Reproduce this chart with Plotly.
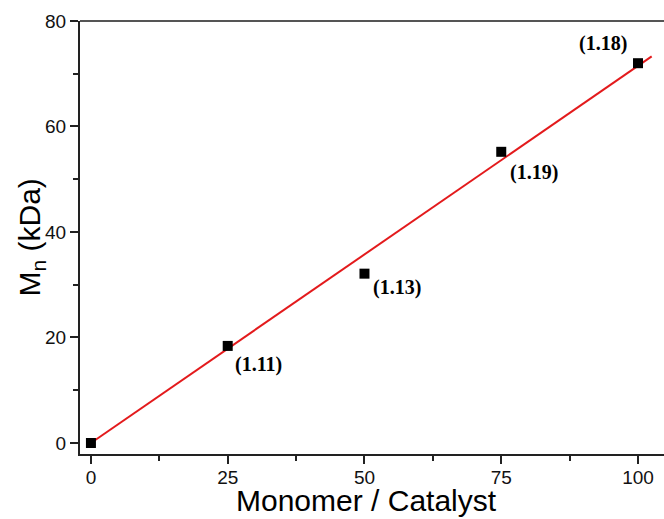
import numpy as np
import plotly.graph_objects as go

ratio = [0, 25, 50, 75, 100]
mn = [0.0, 18.4, 32.1, 55.2, 72.0]
pdi_labels = ["", "(1.11)", "(1.13)", "(1.19)", "(1.18)"]
x_ticks = [0, 25, 50, 75, 100]
y_ticks = [0, 20, 40, 60, 80]

# linear fit through origin
xa = np.array(ratio, float)
ya = np.array(mn, float)
slope = (xa * ya).sum() / (xa * xa).sum()
fit_x = np.array([0.0, 102.5])
fit_y = slope * fit_x

fig = go.Figure()
fig.add_trace(go.Scatter(x=fit_x, y=fit_y, mode="lines",
                         line=dict(color="#e31a1c", width=2), showlegend=False))
fig.add_trace(go.Scatter(x=ratio, y=mn, mode="markers",
                         marker=dict(symbol="square", size=10, color="black"),
                         showlegend=False))

# label offsets (pixels) relative to points
offsets = {1: (31, -19), 2: (33, -14), 3: (33, -21), 4: (-35, 20)}
for i, lab in enumerate(pdi_labels):
    if not lab:
        continue
    dx, dy = offsets[i]
    fig.add_annotation(x=ratio[i], y=mn[i], text="<b>%s</b>" % lab, showarrow=False,
                       xshift=dx, yshift=dy,
                       font=dict(family="Liberation Serif", size=20, color="black"))

# axis titles
fig.add_annotation(xref="paper", yref="paper", x=0.49, y=0, xanchor="center", yanchor="top",
                   yshift=-28, showarrow=False, text="Monomer / Catalyst",
                   font=dict(family="Liberation Sans", size=30, color="black"))
fig.add_annotation(xref="paper", yref="paper", x=0, y=0.5, xanchor="center", yanchor="middle",
                   xshift=-49, textangle=-90, showarrow=False, text="M<sub>n</sub> (kDa)",
                   font=dict(family="Liberation Sans", size=30, color="black"))

fig.add_shape(type="line", xref="paper", yref="paper", x0=0, x1=1, y0=1, y1=1,
              line=dict(color="#555555", width=2))

axis_common = dict(showgrid=False, zeroline=False, showline=True, linecolor="#222222",
                   linewidth=2, ticks="outside", ticklen=8, tickwidth=1.5, tickcolor="#222222",
                   automargin=False,
                   tickfont=dict(family="Liberation Sans", size=19, color="#111111"))

fig.update_layout(
    width=664, height=519,
    margin=dict(l=80, r=0, t=21, b=65),
    plot_bgcolor="white", paper_bgcolor="white",
    xaxis=dict(range=[-2.0, 104.75], tickvals=x_ticks, ticklabelstandoff=-3,
               minor=dict(tickvals=[12.5, 37.5, 62.5, 87.5], ticks="outside", ticklen=5,
                          tickwidth=1.5, tickcolor="#222222"),
               **axis_common),
    yaxis=dict(range=[-2.09, 80], tickvals=y_ticks,
               minor=dict(tickvals=[10, 30, 50, 70], ticks="outside", ticklen=5,
                          tickwidth=1.5, tickcolor="#222222"),
               **axis_common),
)

fig.write_html("out.html", config={"displayModeBar": False},
               post_script="document.body.style.margin='0';document.body.style.overflow='hidden';")
